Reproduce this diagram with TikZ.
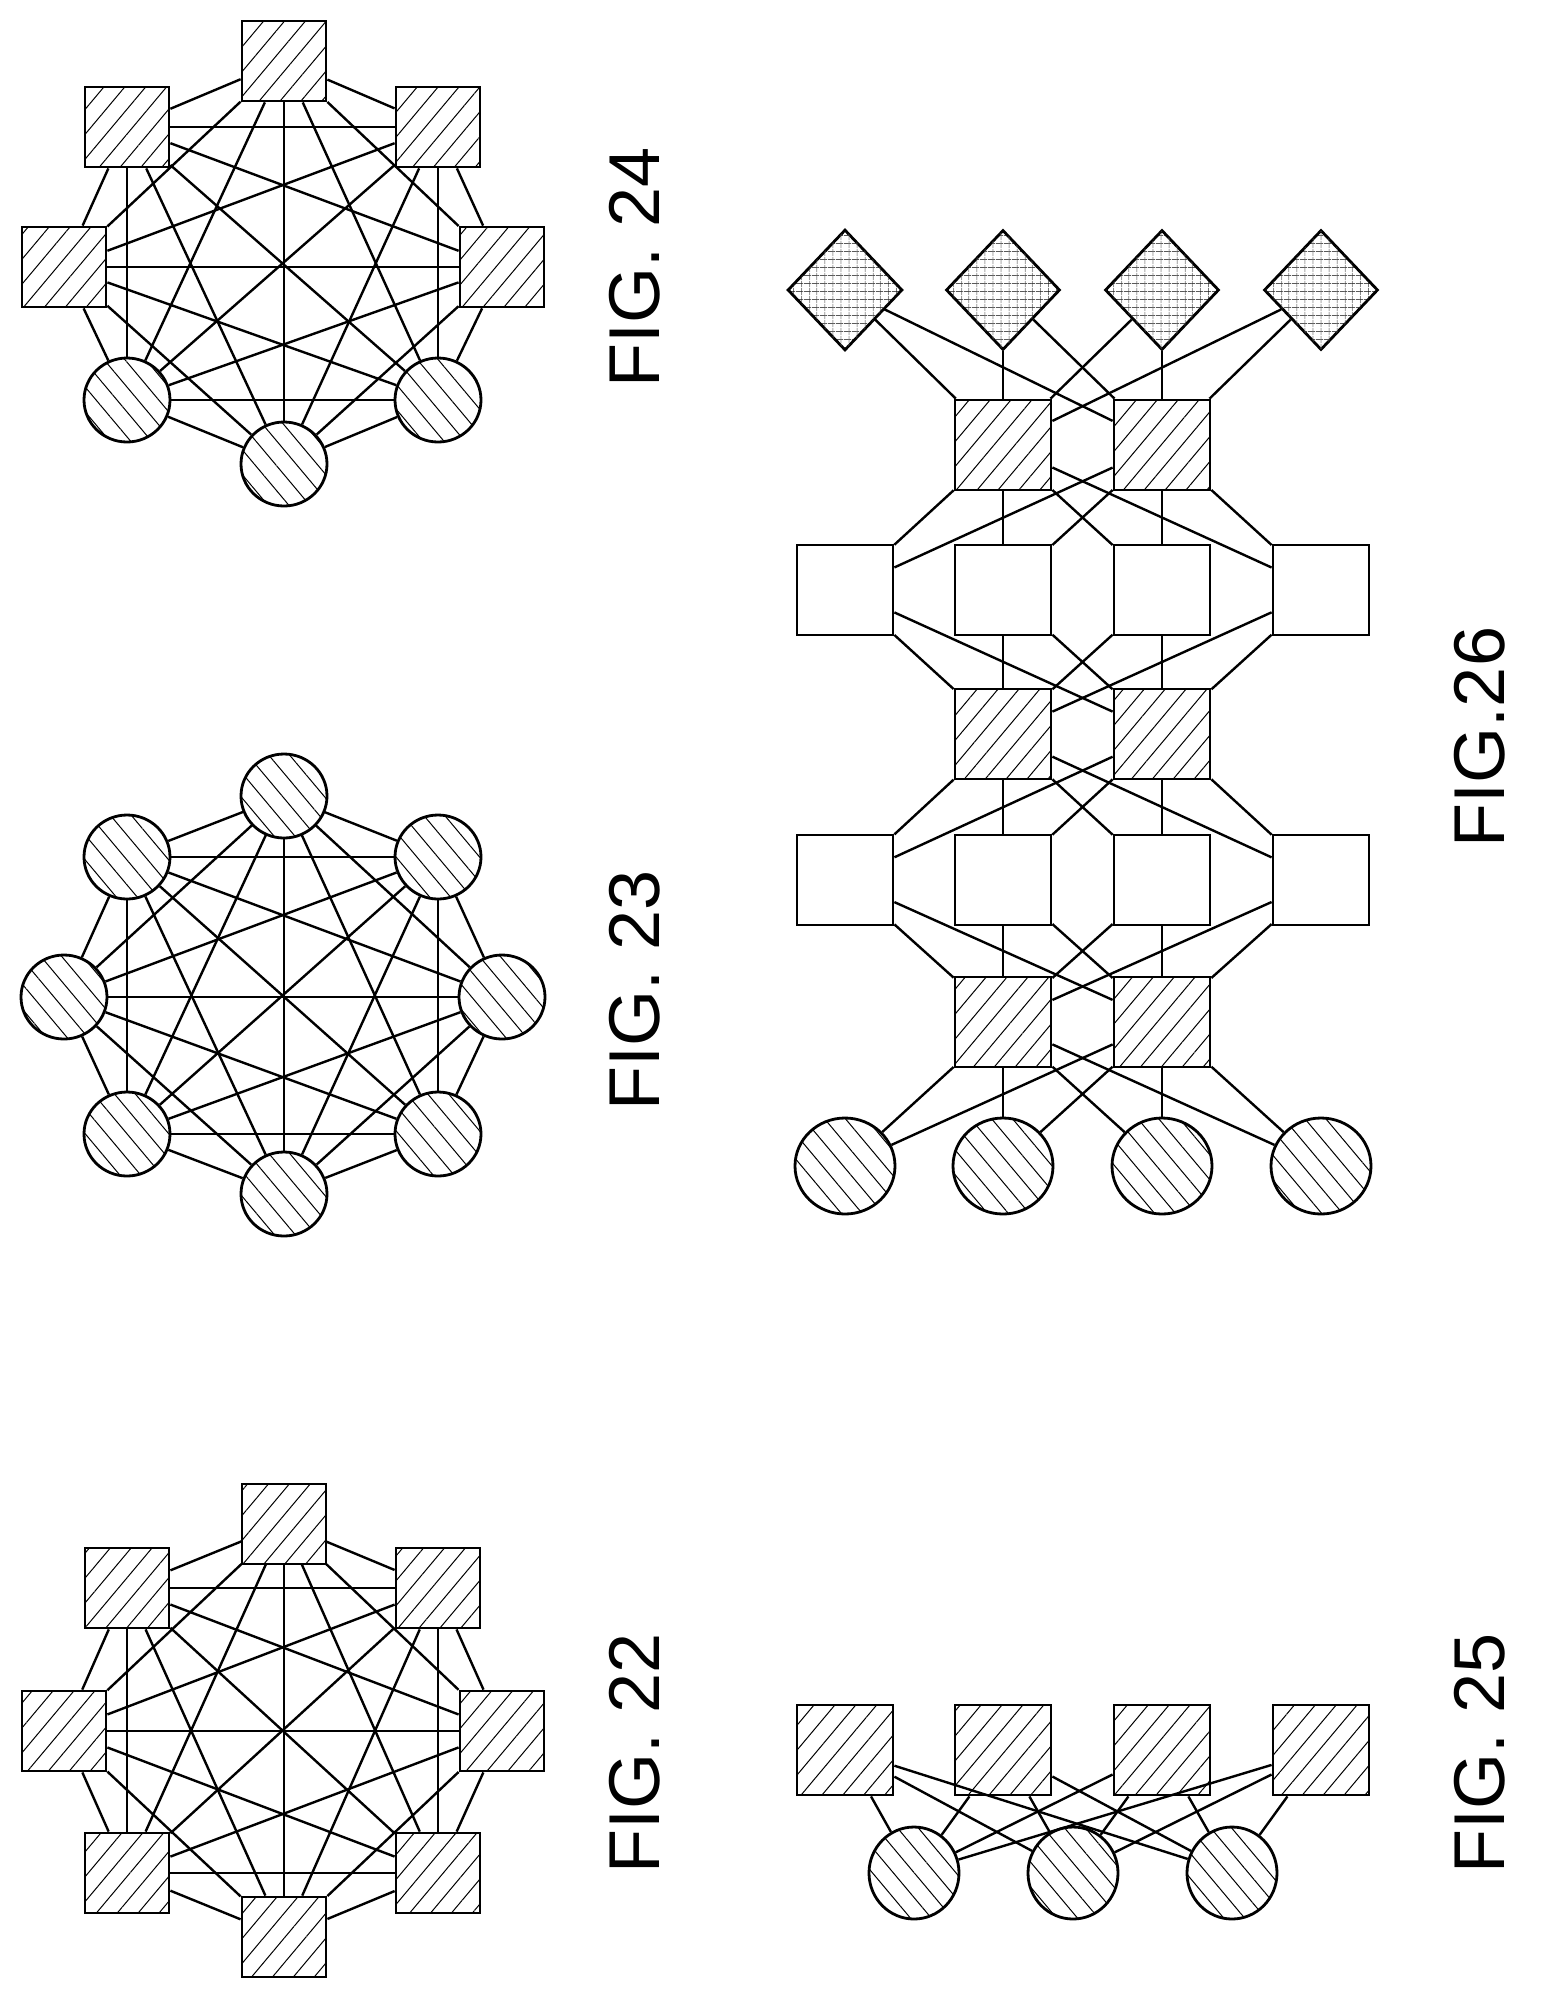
\documentclass[tikz,border=0pt]{standalone}
\usepackage{fontspec}
\setmainfont{Liberation Sans}
\usetikzlibrary{patterns.meta,shapes.geometric}
\begin{document}
\begin{tikzpicture}[x=0.5pt,y=-0.5pt,
  sq/.style={draw,line width=1.4pt,minimum width=42pt,minimum height=40pt,inner sep=0pt,preaction={fill=white},pattern={Lines[angle=50,distance=8pt,line width=0.5pt]}},
  bsq/.style={sq,minimum width=48pt,minimum height=45pt},
  wsq/.style={draw,line width=1.4pt,fill=white,minimum width=48pt,minimum height=45pt,inner sep=0pt},
  cir/.style={draw,ellipse,line width=1.4pt,minimum width=43pt,minimum height=42pt,inner sep=0pt,preaction={fill=white},pattern={Lines[angle=-50,distance=8pt,line width=0.5pt]}},
  bcir/.style={cir,minimum width=50pt,minimum height=48pt},
  dia/.style={draw,diamond,line width=1.4pt,minimum width=57pt,minimum height=60pt,inner sep=0pt,preaction={fill=white},pattern={Lines[angle=0,distance=4pt,line width=0.35pt]},postaction={pattern={Lines[angle=90,distance=4pt,line width=0.35pt]}}},
  ed/.style={line width=1.2pt},
  lab/.style={rotate=90,font=\fontsize{36}{42}\selectfont}]
\useasboundingbox (0,0) rectangle (1545,2003);
% FIG 22
\node[sq] (a1) at (284,1524) {};
\node[sq] (a2) at (438,1588) {};
\node[sq] (a3) at (502,1731) {};
\node[sq] (a4) at (438,1873) {};
\node[sq] (a5) at (284,1937) {};
\node[sq] (a6) at (127,1873) {};
\node[sq] (a7) at (64,1731) {};
\node[sq] (a8) at (127,1588) {};
% FIG 23
\node[cir] (b1) at (284,796) {};
\node[cir] (b2) at (438,857) {};
\node[cir] (b3) at (502,997) {};
\node[cir] (b4) at (438,1134) {};
\node[cir] (b5) at (284,1194) {};
\node[cir] (b6) at (127,1134) {};
\node[cir] (b7) at (64,997) {};
\node[cir] (b8) at (127,857) {};
% FIG 24
\node[sq] (c1) at (284,61) {};
\node[sq] (c2) at (438,127) {};
\node[sq] (c3) at (502,267) {};
\node[cir] (c4) at (438,400) {};
\node[cir] (c5) at (284,464) {};
\node[cir] (c6) at (127,400) {};
\node[sq] (c7) at (64,267) {};
\node[sq] (c8) at (127,127) {};
\foreach \p in {a,b,c}{
  \foreach \i in {1,...,7}{
    \pgfmathtruncatemacro{\s}{\i+1}
    \foreach \j in {\s,...,8}{ \draw[ed] (\p\i) -- (\p\j); }}}
\node[lab] (l22) at (635,1753) {FIG. 22};
\node[lab] (l23) at (635,990) {FIG. 23};
\node[lab] (l24) at (635,267) {FIG. 24};
% FIG 25
\foreach \x [count=\k] in {845,1003,1162,1321}{ \node[bsq] (s\k) at (\x,1750) {}; }
\foreach \x [count=\k] in {914,1073,1232}{ \node[cir,minimum width=45pt,minimum height=46pt] (t\k) at (\x,1873) {}; }
\foreach \i in {1,...,4}{\foreach \j in {1,2,3}{\draw[ed] (s\i) -- (t\j);}}
\node[lab] (l25) at (1480,1753) {FIG. 25};
% FIG 26
\foreach \x [count=\k] in {845,1003,1162,1321}{
  \node[dia] (d\k) at (\x,290) {};
  \node[wsq] (w\k) at (\x,590) {};
  \node[wsq] (v\k) at (\x,880) {};
  \node[bcir] (o\k) at (\x,1166) {};
}
\foreach \x [count=\k] in {1003,1162}{
  \node[bsq] (h\k) at (\x,445) {};
  \node[bsq] (g\k) at (\x,734) {};
  \node[bsq] (f\k) at (\x,1022) {};
}
\foreach \i in {1,...,4}{\foreach \j in {1,2}{
  \draw[ed] (d\i) -- (h\j);
  \draw[ed] (w\i) -- (h\j);
  \draw[ed] (w\i) -- (g\j);
  \draw[ed] (v\i) -- (g\j);
  \draw[ed] (v\i) -- (f\j);
  \draw[ed] (o\i) -- (f\j);
}}
\node[lab] (l26) at (1480,737) {FIG.26};
\end{tikzpicture}
\end{document}
